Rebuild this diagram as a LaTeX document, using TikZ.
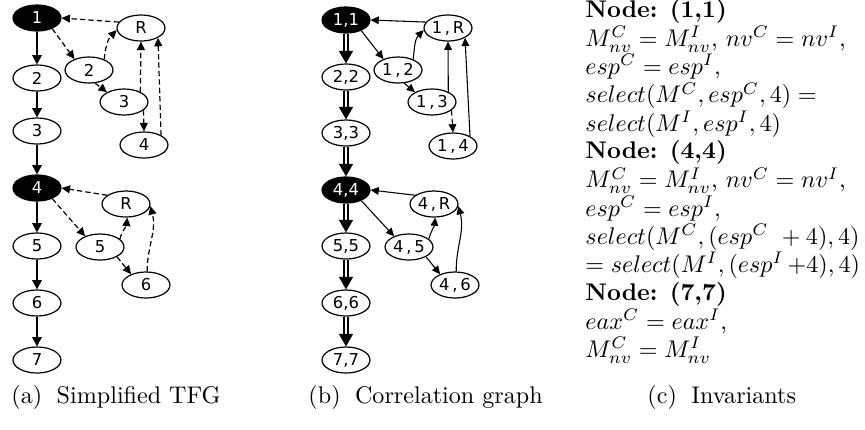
\documentclass[tikz,border=0pt]{standalone}
\usepackage{fontspec}
\newfontfamily\nodefont{DejaVu Sans}
\usetikzlibrary{shapes.geometric,arrows.meta}
\begin{document}
\begin{tikzpicture}[x=0.415pt,y=0.415pt,
  nd/.style={ellipse,draw,line width=0.5pt,minimum width=19.9pt,minimum height=10.8pt,inner sep=0pt,font=\nodefont\fontsize{6.8}{7}\selectfont},
  blk/.style={nd,fill=black,text=white},
  mainarr/.style={line width=0.6pt,-{Triangle[length=3.8pt,width=3.9pt]}},
  dsh/.style={line width=0.5pt,dash pattern=on 2.2pt off 1.3pt,-{Triangle[length=3.5pt,width=3.3pt]}},
  thinarr/.style={line width=0.45pt,-{Triangle[length=3.4pt,width=3.2pt]}},
  dbl/.style={double,double distance=1pt,line width=0.6pt,-{Triangle[length=5.2pt,width=5.8pt]}},
  txt/.style={anchor=base west,inner sep=0pt}
]
\useasboundingbox (0,0) rectangle (865,-429);
% (a)
\node[blk] (A1) at (37,-18) {1};
\node[nd] (A2) at (37,-78) {2};
\node[nd] (A3) at (37,-131) {3};
\node[blk] (A4) at (37,-188) {4};
\node[nd] (A5) at (37,-246) {5};
\node[nd] (A6) at (37,-303) {6};
\node[nd] (A7) at (37,-360) {7};
\node[nd] (AR1) at (141,-28) {R};
\node[nd] (A2r) at (89,-70) {2};
\node[nd] (A3r) at (124,-102) {3};
\node[nd] (A4r) at (144,-145) {4};
\node[nd] (AR2) at (126,-204) {R};
\node[nd] (A5r) at (100,-247) {5};
\node[nd] (A6r) at (146,-285) {6};
\draw[mainarr] (A1) -- (A2);
\draw[mainarr] (A2) -- (A3);
\draw[mainarr] (A3) -- (A4);
\draw[mainarr] (A4) -- (A5);
\draw[mainarr] (A5) -- (A6);
\draw[mainarr] (A6) -- (A7);
\draw[dsh] (AR1.165) -- (A1.east);
\draw[dsh] (A1.-35) -- (A2r.143);
\draw[dsh] (A2r.35) to[out=85,in=225] (AR1.185);
\draw[dsh] (A2r.-65) -- (A3r.150);
\draw[dsh] (A3r.32) -- (AR1.-90);
\draw[dsh] (A3r.-23) -- (A4r.north);
\draw[dsh] (A4r.30) -- (AR1.-30);
\draw[dsh] (AR2.155) -- (A4.east);
\draw[dsh] (A4.-35) -- (A5r.144);
\draw[dsh] (A5r.22) to[out=75,in=-95] (AR2.-85);
\draw[dsh] (A5r.-30) -- (A6r.144);
\draw[dsh] (A6r.85) to[out=90,in=-75] (AR2.-5);
% (b)
\node[blk] (B1) at (346,-20) {1,1};
\node[nd] (B2) at (346,-77) {2,2};
\node[nd] (B3) at (346,-133) {3,3};
\node[blk] (B4) at (346,-190) {4,4};
\node[nd] (B5) at (346,-246) {5,5};
\node[nd] (B6) at (346,-303) {6,6};
\node[nd] (B7) at (346,-360) {7,7};
\node[nd] (B1R) at (448,-28) {1\,,\,R};
\node[nd] (B12) at (398,-70) {1\,,\,2};
\node[nd] (B13) at (432,-102) {1\,,\,3};
\node[nd] (B14) at (453,-146) {1\,,\,4};
\node[nd] (B4R) at (434,-204) {4\,,\,R};
\node[nd] (B45) at (409,-247) {4\,,\,5};
\node[nd] (B46) at (455,-285) {4\,,\,6};
\draw[dbl] (B1) -- (B2);
\draw[dbl] (B2) -- (B3);
\draw[dbl] (B3) -- (B4);
\draw[dbl] (B4) -- (B5);
\draw[dbl] (B5) -- (B6);
\draw[dbl] (B6) -- (B7);
\draw[thinarr] (B1R.165) -- (B1.east);
\draw[thinarr] (B1.-35) -- (B12.143);
\draw[thinarr] (B12.35) to[out=85,in=225] (B1R.185);
\draw[thinarr] (B12.-65) -- (B13.150);
\draw[thinarr] (B13.32) -- (B1R.-90);
\draw[thinarr,dash pattern=on 2.2pt off 1.3pt] (B13.-23) -- (B14.north);
\draw[thinarr] (B14.30) -- (B1R.-30);
\draw[thinarr] (B4R.155) -- (B4.east);
\draw[thinarr] (B4.-35) -- (B45.144);
\draw[thinarr] (B45.22) to[out=75,in=-95] (B4R.-85);
\draw[thinarr] (B45.-30) -- (B46.144);
\draw[thinarr] (B46.85) to[out=90,in=-75] (B4R.-5);
% (c)
\node[txt] (c1) at (585,-17) {\textbf{Node: (1,1)}};
\node[txt] (c2) at (585,-46.3) {$M^C_{nv} = M^I_{nv}$, $nv^C = nv^I$,};
\node[txt] (c3) at (585,-74.6) {$esp^C = esp^I$,};
\node[txt] (c4) at (585,-102.9) {$select(M^C, esp^C, 4) =$};
\node[txt] (c5) at (585,-131.2) {$select(M^I, esp^I, 4)$};
\node[txt] (c6) at (585,-158.5) {\textbf{Node: (4,4)}};
\node[txt] (c7) at (585,-187.8) {$M^C_{nv} = M^I_{nv}$, $nv^C = nv^I$,};
\node[txt] (c8) at (585,-216.1) {$esp^C = esp^I$,};
\node[txt] (c9) at (585,-244.4) {$select(M^C, (esp^C\ + 4), 4)$};
\node[txt] (c10) at (585,-272.7) {$= select(M^I, (esp^I\,{+}4), 4)$};
\node[txt] (c11) at (585,-300) {\textbf{Node: (7,7)}};
\node[txt] (c12) at (585,-329.3) {$eax^C = eax^I$,};
\node[txt] (c13) at (585,-357.6) {$M^C_{nv} = M^I_{nv}$};
% captions
\node[txt] (capa) at (11,-403) {(a)\hspace{6pt}Simplified TFG};
\node[txt] (capb) at (308,-403) {(b)\hspace{6pt}Correlation graph};
\node[txt] (capc) at (647,-403) {(c)\hspace{6pt}Invariants};
\end{tikzpicture}
\end{document}
